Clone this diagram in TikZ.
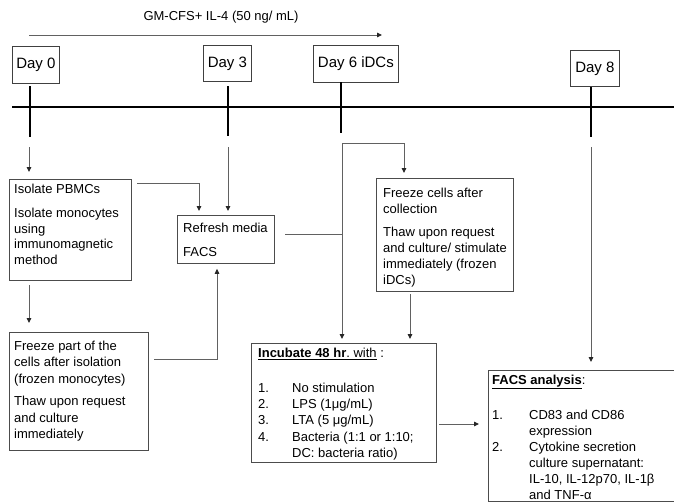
\documentclass[tikz,border=0pt]{standalone}
\usepackage{fontspec}
\setmainfont{Liberation Sans}
\usetikzlibrary{arrows.meta}
\begin{document}
\begin{tikzpicture}[x=1pt,y=-1pt,
  box/.style={draw=black!70, line width=0.8pt, anchor=north west, inner sep=0pt},
  daybox/.style={draw=black!75, line width=0.8pt, anchor=north west, inner sep=0pt, font=\fontsize{15}{18}\selectfont},
  txt/.style={anchor=base west, align=left, inner sep=0pt, font=\fontsize{13}{16}\selectfont},
  tick/.style={line width=2pt, black},
  conn/.style={line width=0.9pt, draw=black!62},
  arr/.style={conn, -{Triangle[length=5pt,width=4.5pt,color=black!85]}}
]
\useasboundingbox (0,0) rectangle (674,501);
\clip (0,0) rectangle (674,501);

% top label and arrow
\node[anchor=base, inner sep=0pt, font=\fontsize{13}{16}\selectfont] (gm) at (221,20) {GM-CFS+ IL-4 (50 ng/ mL)};
\coordinate (ga) at (29,35);
\coordinate (gb) at (382,35);
\draw[arr] (ga) -- (gb);

% day boxes
\node[daybox, minimum width=47pt, minimum height=37pt] (day0) at (12,46) {Day 0};
\node[daybox, minimum width=48pt, minimum height=36pt] (day3) at (203,45) {Day 3};
\node[daybox, minimum width=85pt, minimum height=37pt] (day6) at (313,45) {Day 6 iDCs};
\node[daybox, minimum width=49pt, minimum height=36pt] (day8) at (570,50) {Day 8};

% timeline
\coordinate (tl0) at (12,107);
\coordinate (tl1) at (676,107);
\draw[tick] (tl0) -- (tl1);

% ticks
\coordinate (t0a) at (30,86);  \coordinate (t0b) at (30,137);
\coordinate (t3a) at (228,86); \coordinate (t3b) at (228,136);
\coordinate (t6a) at (341,82); \coordinate (t6b) at (341,133);
\coordinate (t8a) at (591,87); \coordinate (t8b) at (591,137);
\draw[tick] (t0a) -- (t0b);
\draw[tick] (t3a) -- (t3b);
\draw[tick] (t6a) -- (t6b);
\draw[tick] (t8a) -- (t8b);

% boxes
\node[box, minimum width=122pt, minimum height=101pt] (iso) at (9,179) {};
\node[txt, font=\fontsize{13}{15.5}\selectfont] (isot) at (14,264) {Isolate PBMCs\\[8.5pt]Isolate monocytes\\using\\immunomagnetic\\method};

\node[box, minimum width=97pt, minimum height=48pt] (ref) at (177,215) {};
\node[txt] (reft) at (183,256.5) {Refresh media\\[8pt]FACS};

\node[box, minimum width=137pt, minimum height=113pt] (frc) at (376,178) {};
\node[txt] (frct) at (383,284.5) {Freeze cells after\\collection\\[7pt]Thaw upon request\\and culture/ stimulate\\immediately (frozen\\iDCs)};

\node[box, minimum width=139pt, minimum height=118pt] (frp) at (9,332) {};
\node[txt, font=\fontsize{13}{16.3}\selectfont] (frpt) at (14,438.5) {Freeze part of the\\cells after isolation\\(frozen monocytes)\\[6.5pt]Thaw upon request\\and culture\\immediately};

\node[box, minimum width=185pt, minimum height=119pt] (inc) at (251,343) {};
\node[txt, font=\fontsize{13}{16.3}\selectfont] (inct) at (258,457.5) {\underline{\textbf{Incubate 48 hr}.\ with} :\\[18.7pt]%
\makebox[34pt][l]{1.}No stimulation\\
\makebox[34pt][l]{2.}LPS (1μg/mL)\\
\makebox[34pt][l]{3.}LTA (5 μg/mL)\\
\makebox[34pt][l]{4.}Bacteria (1:1 or 1:10;\\
\hspace*{34pt}DC: bacteria ratio)};

\node[box, minimum width=200pt, minimum height=130.5pt] (facs) at (488,370) {};
\node[txt] (facst) at (492,499) {\underline{\textbf{FACS analysis}}:\\[19pt]%
\makebox[37pt][l]{1.}CD83 and CD86\\
\hspace*{37pt}expression\\
\makebox[37pt][l]{2.}Cytokine secretion\\
\hspace*{37pt}culture supernatant:\\
\hspace*{37pt}IL-10, IL-12p70, IL-1β\\
\hspace*{37pt}and TNF-α};

% connectors
\coordinate (a0) at (29,147);
\draw[arr] (a0) -- ([yshift=7pt]iso.north -| a0);
\coordinate (a0b) at (29,285);
\draw[arr] (a0b) -- ([yshift=9pt]frp.north -| a0b);

\coordinate (a3) at (228,147);
\draw[arr] (a3) -- ([yshift=4pt]ref.north -| a3);

\coordinate (isoR) at (137,183);
\coordinate (isoC) at (199,183);
\draw[arr] (isoR) -- (isoC) -- ([yshift=4pt]ref.north -| isoC);

\coordinate (frpR) at (154,359);
\coordinate (frpC) at (217,359);
\draw[arr] (frpR) -- (frpC) -- ([yshift=-5pt]ref.south -| frpC);

\coordinate (refR) at (285,234);
\coordinate (v6) at (342,234);
\draw[conn] (refR) -- (v6);

\coordinate (v6top) at (342,143);
\coordinate (v6r) at (404,143);
\draw[arr] (v6top) -- ([yshift=4pt]inc.north -| v6top);
\draw[arr] (v6top) -- (v6r) -- ([yshift=5pt]frc.north -| v6r);

\coordinate (frcB) at (410,294);
\draw[arr] (frcB) -- ([yshift=4pt]inc.north -| frcB);

\coordinate (a8) at (591,147);
\draw[arr] (a8) -- ([yshift=8pt]facs.north -| a8);

\coordinate (incR) at (439,424);
\draw[arr] (incR) -- ([xshift=-9pt]facs.west |- incR);
\end{tikzpicture}
\end{document}
